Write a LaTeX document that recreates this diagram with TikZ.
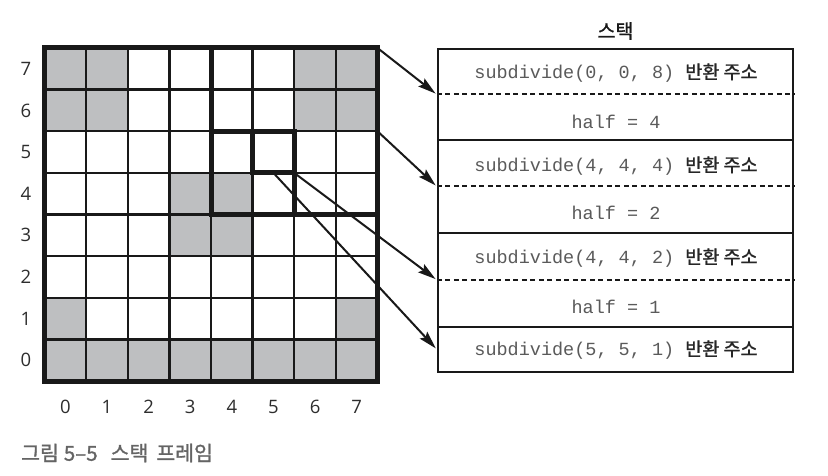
\documentclass[tikz,border=0pt]{standalone}
\usepackage{fontspec}
\setmainfont{Liberation Sans}
\newfontfamily\cjk{Noto Sans CJK KR}
\newfontfamily\cjkm[FakeBold=1.3]{Noto Sans CJK KR}
\newfontfamily\codef{Liberation Mono}
\newfontfamily\numf{Open Sans}
\usetikzlibrary{arrows.meta}
\definecolor{cellgray}{RGB}{190,191,193}
\definecolor{codegray}{RGB}{90,90,90}
\definecolor{labgray}{RGB}{45,45,45}
\definecolor{capgray}{RGB}{100,100,100}
\tikzset{
  thinline/.style={line width=2.3pt, black!90},
  thickline/.style={line width=5pt, black!90},
  stackbox/.style={draw=black!90, line width=2.4pt, minimum width=355pt, inner sep=0pt},
  divline/.style={line width=2pt, dash pattern=on 5pt off 3.5pt, black!90},
  ptr/.style={line width=2pt, black!90, -{Stealth[length=18pt,width=10pt,inset=3pt]}, shorten >=1.5pt},
  codetxt/.style={font=\fontsize{18.5}{20}\selectfont, text=codegray, inner sep=0pt},
  rowlab/.style={font=\numf\fontsize{18.5}{20}\selectfont, text=labgray},
}
\newcommand{\kr}[1]{{\cjkm\fontsize{18.5}{20}\selectfont\color{black!85}#1}}
\begin{document}
\begin{tikzpicture}[x=1pt,y=-1pt]
\useasboundingbox[fill=white] (0,0) rectangle (828,476);
\def\xo{44.5}\def\yo{48}\def\cs{41.625}
% gray cells
\foreach \c/\r in {0/7,1/7,6/7,7/7,0/6,1/6,6/6,7/6,3/4,4/4,3/3,4/3,0/1,7/1,0/0,1/0,2/0,3/0,4/0,5/0,6/0,7/0}{
  \fill[cellgray] ({\xo+\c*\cs},{\yo+(7-\r)*\cs}) rectangle ++(\cs,\cs);
}
% thin grid
\foreach \i in {1,...,7}{
  \draw[thinline] ({\xo+\i*\cs},\yo) -- ({\xo+\i*\cs},{\yo+8*\cs});
  \draw[thinline] (\xo,{\yo+\i*\cs}) -- ({\xo+8*\cs},{\yo+\i*\cs});
}
% thick squares
\draw[thickline] ({\xo+4*\cs},\yo) -- ({\xo+4*\cs},{\yo+4*\cs}) -- ({\xo+8*\cs},{\yo+4*\cs});
\draw[thickline] ({\xo+4*\cs},{\yo+2*\cs}) rectangle ({\xo+6*\cs},{\yo+4*\cs});
\draw[thickline] ({\xo+5*\cs},{\yo+2*\cs}) rectangle ({\xo+6*\cs},{\yo+3*\cs});
\draw[thickline] (\xo,\yo) rectangle ({\xo+8*\cs},{\yo+8*\cs});
% labels
\foreach \i in {0,...,7}{
  \node[rowlab] (r\i) at (26,{\yo+(7-\i+0.5)*\cs}) {\i};
  \node[rowlab] (c\i) at ({\xo+(\i+0.5)*\cs},407) {\i};
}
% anchor points on grid
\coordinate (gTR) at ({\xo+8*\cs},\yo);
\coordinate (gR6) at ({\xo+8*\cs},{\yo+2*\cs});
\coordinate (cBR) at ({\xo+6*\cs},{\yo+3*\cs});
\coordinate (cBM) at ({\xo+5.5*\cs},{\yo+3*\cs});
% stack
\node[font=\cjkm\fontsize{19.5}{20}\selectfont, text=black!90] (title) at (615.5,31) {스택};
\node[stackbox, minimum height=91pt] (s1) at (615.5,94.5) {};
\node[stackbox, minimum height=93pt] (s2) at (615.5,186.5) {};
\node[stackbox, minimum height=94pt] (s3) at (615.5,280) {};
\node[stackbox, minimum height=45pt] (s4) at (615.5,349.5) {};
\draw[divline] (s1.west) -- (s1.east);
\draw[divline] (s2.west) -- (s2.east);
\draw[divline] (s3.west) -- (s3.east);
\node[codetxt] (t1a) at (616,73) {\codef subdivide(0, 0, 8) \kr{반환 주소}};
\node[codetxt] (t1b) at (616,122) {\codef half = 4};
\node[codetxt] (t2a) at (616,166) {\codef subdivide(4, 4, 4) \kr{반환 주소}};
\node[codetxt] (t2b) at (616,213) {\codef half = 2};
\node[codetxt] (t3a) at (616,258) {\codef subdivide(4, 4, 2) \kr{반환 주소}};
\node[codetxt] (t3b) at (616,307) {\codef half = 1};
\node[codetxt] (t4a) at (616,350) {\codef subdivide(5, 5, 1) \kr{반환 주소}};
% pointers
\draw[ptr] (gTR) -- (s1.west);
\draw[ptr] (gR6) -- (s2.west);
\draw[ptr] (cBR) -- (s3.west);
\draw[ptr] (cBM) -- (s4.west);
% caption
\node[anchor=west, inner sep=0pt, text=capgray, font=\cjkm\fontsize{20.5}{22}\selectfont] (cap) at (21,453) {그림\hspace{5pt}5–5\hspace{13pt}스택\hspace{8pt}프레임};
\end{tikzpicture}
\end{document}
